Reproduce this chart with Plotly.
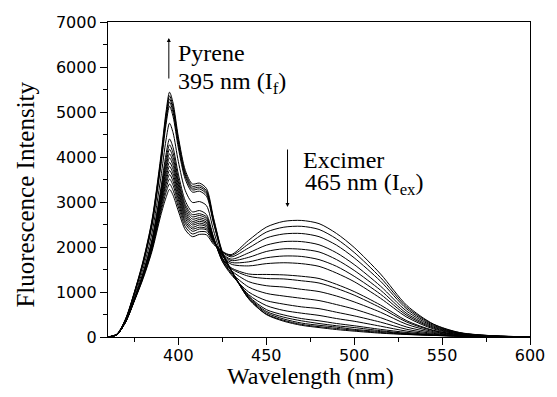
import plotly.graph_objects as go

wavelength = [360, 365, 370, 375, 380, 385, 390, 393, 395, 397, 400, 404, 408, 412, 416,
              420, 425, 430, 440, 450, 460, 470, 480, 490, 500, 515, 530, 545, 560, 580, 600]

intensity_01 = [0, 50, 330, 800, 1300, 1900, 2700, 3100, 3280, 3150, 2800, 2380, 2230, 2280, 2270,
                2060, 1900, 1830, 2150, 2440, 2570, 2590, 2520, 2300, 1990, 1400, 700, 290, 100, 25, 5]
intensity_02 = [0, 50, 330, 810, 1320, 1940, 2770, 3210, 3400, 3260, 2890, 2450, 2290, 2340, 2330,
                2090, 1900, 1810, 2070, 2330, 2440, 2460, 2390, 2180, 1880, 1320, 660, 280, 95, 24, 5]
intensity_03 = [0, 50, 340, 820, 1340, 1970, 2830, 3300, 3510, 3370, 2970, 2520, 2350, 2400, 2380,
                2120, 1890, 1780, 1980, 2200, 2290, 2300, 2230, 2040, 1760, 1240, 620, 260, 90, 23, 5]
intensity_04 = [0, 50, 340, 820, 1350, 1990, 2890, 3390, 3610, 3460, 3050, 2570, 2400, 2440, 2410,
                2130, 1860, 1730, 1870, 2040, 2120, 2120, 2050, 1870, 1610, 1130, 570, 240, 83, 21, 4]
intensity_05 = [0, 50, 340, 820, 1360, 2010, 2930, 3460, 3700, 3550, 3110, 2630, 2440, 2490, 2450,
                2140, 1840, 1700, 1770, 1900, 1960, 1950, 1890, 1720, 1480, 1040, 520, 220, 77, 20, 4]
intensity_06 = [0, 50, 340, 830, 1370, 2030, 2980, 3540, 3790, 3630, 3180, 2680, 2490, 2530, 2480,
                2150, 1820, 1660, 1670, 1760, 1800, 1790, 1720, 1570, 1350, 950, 480, 200, 70, 19, 4]
intensity_07 = [0, 50, 340, 830, 1380, 2050, 3020, 3620, 3880, 3720, 3240, 2730, 2530, 2570, 2520,
                2160, 1800, 1620, 1580, 1630, 1650, 1630, 1570, 1420, 1230, 860, 440, 180, 65, 17, 4]
intensity_08 = [0, 50, 340, 830, 1380, 2060, 3060, 3700, 3980, 3810, 3310, 2780, 2570, 2610, 2550,
                2160, 1750, 1540, 1400, 1390, 1380, 1350, 1300, 1170, 1010, 710, 360, 150, 56, 15, 3]
intensity_09 = [0, 50, 340, 830, 1390, 2090, 3120, 3780, 4070, 3900, 3380, 2830, 2620, 2650, 2590,
                2180, 1750, 1520, 1350, 1300, 1290, 1250, 1200, 1080, 930, 650, 330, 140, 50, 14, 3]
intensity_10 = [0, 50, 340, 840, 1400, 2110, 3170, 3860, 4170, 3990, 3450, 2890, 2670, 2700, 2630,
                2200, 1720, 1480, 1230, 1140, 1110, 1060, 1010, 910, 780, 550, 280, 120, 46, 13, 3]
intensity_11 = [0, 50, 340, 840, 1410, 2130, 3220, 3950, 4270, 4090, 3520, 2940, 2720, 2740, 2670,
                2200, 1690, 1430, 1110, 970, 910, 860, 810, 720, 620, 430, 220, 100, 38, 11, 3]
intensity_12 = [0, 50, 340, 850, 1430, 2170, 3290, 4060, 4400, 4210, 3620, 3020, 2780, 2810, 2720,
                2230, 1680, 1390, 1000, 810, 730, 670, 630, 550, 470, 330, 170, 80, 32, 10, 2]
intensity_13 = [0, 50, 360, 900, 1520, 2310, 3530, 4380, 4750, 4540, 3900, 3250, 2990, 3010, 2920,
                2370, 1750, 1420, 940, 700, 590, 530, 480, 410, 350, 240, 130, 64, 26, 9, 2]
intensity_14 = [0, 60, 380, 960, 1620, 2470, 3790, 4720, 5130, 4900, 4200, 3500, 3220, 3240, 3130,
                2530, 1840, 1480, 910, 610, 490, 410, 360, 300, 250, 170, 100, 50, 23, 8, 2]
intensity_15 = [0, 60, 390, 970, 1640, 2510, 3850, 4800, 5220, 4990, 4280, 3560, 3270, 3290, 3180,
                2560, 1860, 1480, 890, 570, 440, 360, 300, 250, 210, 140, 80, 45, 21, 8, 2]
intensity_16 = [0, 60, 390, 980, 1660, 2540, 3900, 4860, 5290, 5060, 4330, 3600, 3310, 3330, 3220,
                2590, 1870, 1480, 870, 540, 400, 310, 260, 220, 170, 120, 70, 40, 20, 7, 2]
intensity_17 = [0, 60, 400, 990, 1680, 2570, 3940, 4930, 5360, 5120, 4390, 3650, 3350, 3370, 3250,
                2620, 1880, 1490, 850, 510, 370, 280, 230, 190, 150, 100, 60, 37, 19, 7, 2]
intensity_18 = [0, 60, 400, 1000, 1700, 2600, 4000, 5000, 5440, 5200, 4450, 3700, 3400, 3420, 3300,
                2650, 1900, 1500, 850, 500, 350, 260, 210, 165, 130, 85, 55, 35, 18, 7, 2]

spectra = [intensity_01, intensity_02, intensity_03, intensity_04, intensity_05, intensity_06,
           intensity_07, intensity_08, intensity_09, intensity_10, intensity_11, intensity_12,
           intensity_13, intensity_14, intensity_15, intensity_16, intensity_17, intensity_18]

x_ticks = [400, 450, 500, 550, 600]
x_minor = [375, 425, 475, 525, 575]
y_ticks = [0, 1000, 2000, 3000, 4000, 5000, 6000, 7000]
y_minor = [500, 1500, 2500, 3500, 4500, 5500, 6500]

fig = go.Figure()
for s in spectra:
    fig.add_trace(go.Scatter(x=wavelength, y=s, mode="lines",
                             line=dict(color="black", width=1, shape="spline", smoothing=0.8),
                             showlegend=False, hoverinfo="skip"))

tickfont = dict(family="DejaVu Sans", size=16, color="black")
serif = "Liberation Serif"

fig.update_layout(
    width=557, height=397,
    margin=dict(l=108, r=19, t=22, b=60),
    paper_bgcolor="white", plot_bgcolor="white",
    xaxis=dict(range=[360, 600], tickmode="array", tickvals=x_ticks,
               ticks="outside", ticklen=7, tickwidth=1.2, tickcolor="black",
               ticklabelstandoff=-3,
               minor=dict(tickmode="array", tickvals=x_minor,
                          ticks="outside", ticklen=4, tickwidth=1.2, tickcolor="black"),
               showline=True, linecolor="black", linewidth=1.3, mirror=True,
               showgrid=False, zeroline=False, tickfont=tickfont),
    yaxis=dict(range=[0, 7000], tickmode="array", tickvals=y_ticks,
               ticks="outside", ticklen=7, tickwidth=1.2, tickcolor="black",
               minor=dict(tickmode="array", tickvals=y_minor,
                          ticks="outside", ticklen=4, tickwidth=1.2, tickcolor="black"),
               showline=True, linecolor="black", linewidth=1.3, mirror=True,
               showgrid=False, zeroline=False, tickfont=tickfont),
)

ann_font = dict(family=serif, size=24, color="black")
annotations = [
    dict(xref="paper", yref="paper", x=(314 - 108) / 430, y=(337 - 376) / 315,
         text="Wavelength (nm)", showarrow=False, font=dict(family=serif, size=24, color="black"),
         xanchor="center", yanchor="middle"),
    dict(xref="paper", yref="paper", x=(23 - 108) / 430, y=(337 - 195) / 315,
         text="Fluorescence Intensity", showarrow=False, font=dict(family=serif, size=25, color="black"),
         textangle=-90, xanchor="center", yanchor="middle"),
    dict(x=398.6, y=6311, text="Pyrene", showarrow=False, font=ann_font,
         xanchor="left", yanchor="middle"),
    dict(x=398.6, y=5644, text="395 nm (I<sub>f</sub>)", showarrow=False, font=ann_font,
         xanchor="left", yanchor="middle"),
    dict(x=469.6, y=3933, text="Excimer", showarrow=False, font=ann_font,
         xanchor="left", yanchor="middle"),
    dict(x=470.8, y=3400, text="465 nm (I<sub>ex</sub>)", showarrow=False, font=ann_font,
         xanchor="left", yanchor="middle"),
    dict(x=394.6, y=6644, ax=0, ay=42, text="", showarrow=True,
         arrowhead=2, arrowsize=0.8, arrowwidth=1, arrowcolor="black"),
    dict(x=462.1, y=2889, ax=0, ay=-59, text="", showarrow=True,
         arrowhead=2, arrowsize=0.8, arrowwidth=1, arrowcolor="black"),
]
fig.update_layout(annotations=annotations)

fig.write_html("out.html", config={"displayModeBar": False},
               post_script="document.body.style.margin='0';document.body.style.overflow='hidden';")
